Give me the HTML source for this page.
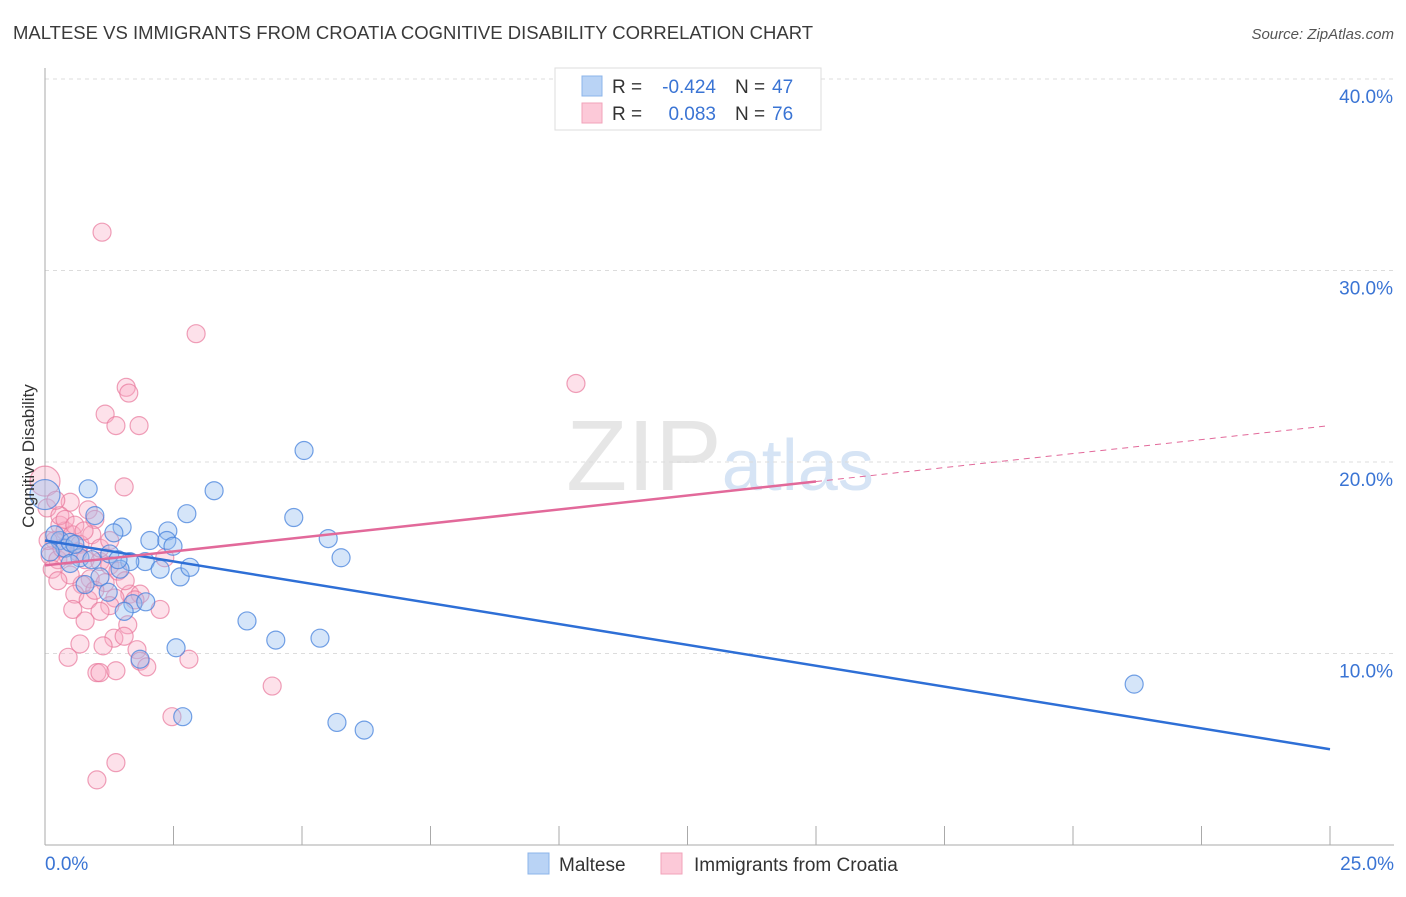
<!DOCTYPE html>
<html><head><meta charset="utf-8"><style>
body{margin:0;background:#fff;font-family:"Liberation Sans",sans-serif}
svg text{font-family:"Liberation Sans",sans-serif}
</style></head><body>
<svg id="chart" width="1406" height="892" xmlns="http://www.w3.org/2000/svg">
<text x="13" y="39" font-size="18.5" fill="#3a3a3a">MALTESE VS IMMIGRANTS FROM CROATIA COGNITIVE DISABILITY CORRELATION CHART</text>
<text x="1394" y="39" font-size="15" fill="#555" font-style="italic" text-anchor="end">Source: ZipAtlas.com</text>
<text x="720" y="490" font-size="100" fill="#e6e6e6" text-anchor="middle" font-family="Liberation Serif">ZIP<tspan fill="#d6e4f5" font-family="Liberation Sans" font-size="72">atlas</tspan></text>
<g id="grid"></g>
<g id="axes"></g>
<g id="pts"></g>
<g id="trends"></g>
<text transform="translate(34,456) rotate(-90)" font-size="17" fill="#333" text-anchor="middle">Cognitive Disability</text>
<g>
<rect x="555" y="68" width="266" height="62" fill="#fff" stroke="#ddd"/>
<rect x="582" y="76" width="20" height="20" fill="#b9d3f5" stroke="#8cb4ea"/>
<rect x="582" y="103" width="20" height="20" fill="#fcc9d8" stroke="#f2a3ba"/>
<text x="612" y="93" font-size="19" fill="#333">R =</text>
<text x="716" y="93" font-size="19" fill="#3a74d4" text-anchor="end">-0.424</text>
<text x="735" y="93" font-size="19" fill="#333">N =</text>
<text x="772" y="93" font-size="19" fill="#3a74d4">47</text>
<text x="612" y="120" font-size="19" fill="#333">R =</text>
<text x="716" y="120" font-size="19" fill="#3a74d4" text-anchor="end">0.083</text>
<text x="735" y="120" font-size="19" fill="#333">N =</text>
<text x="772" y="120" font-size="19" fill="#3a74d4">76</text>
</g>
<g>
<rect x="528" y="853" width="21" height="21" fill="#b9d3f5" stroke="#8cb4ea"/>
<text x="559" y="871" font-size="19" fill="#333">Maltese</text>
<rect x="661" y="853" width="21" height="21" fill="#fcc9d8" stroke="#f2a3ba"/>
<text x="694" y="871" font-size="19" fill="#333">Immigrants from Croatia</text>
</g>
</svg>
<script>
const yTicks=[10,20,30,40];
const blueX=[0,0.84,0.97,1.5,1.34,2.04,2.39,2.37,2.49,2.76,3.29,5.04,4.84,5.51,5.76,1.26,0.68,0.29,0.39,0.49,0.58,1.95,2.24,2.63,2.82,1.65,1.46,1.07,0.78,1.23,1.71,1.96,1.54,3.93,4.49,5.35,2.55,1.85,2.68,5.68,6.21,21.19,0.19,0.91,0.1,0.49,1.42];
const blueY=[18.3,18.6,17.2,16.6,16.3,15.9,16.4,15.9,15.6,17.3,18.5,20.6,17.1,16.0,15.0,15.2,15.0,15.9,15.5,15.8,15.7,14.8,14.4,14.0,14.5,14.8,14.4,14.0,13.6,13.2,12.6,12.7,12.2,11.7,10.7,10.8,10.3,9.7,6.7,6.4,6.0,8.4,16.2,14.9,15.3,14.7,14.9];
const pinkX=[1.11,2.94,10.33,1.58,1.63,1.17,1.38,1.83,1.54,0,0.04,0.49,0.84,0.97,0.29,0.39,0.19,0.53,0.68,0.1,0.25,0.45,0.64,0.78,1.07,1.26,1.42,0.88,0.72,1.17,1.65,0.58,1.36,1.85,0.84,1.26,0.54,1.07,0.78,1.61,2.24,0.68,1.34,1.54,1.13,1.79,0.45,1.85,1.98,1.01,1.07,1.38,2.8,4.42,2.47,1.01,1.38,2.33,0.29,0.91,0.39,0.14,0.33,0.58,1.07,1.26,0.06,0.21,0.76,0.49,0.97,1.75,1.56,0.25];
const pinkY=[32.0,26.7,24.1,23.9,23.6,22.5,21.9,21.9,18.7,19.0,17.6,17.9,17.5,17.0,16.7,16.4,15.9,16.2,15.7,15.1,14.9,15.1,15.3,14.9,14.8,14.6,14.3,13.9,13.6,13.7,13.1,13.1,12.9,13.1,12.8,12.5,12.3,12.2,11.7,11.5,12.3,10.5,10.8,10.9,10.4,10.2,9.8,9.6,9.3,9.0,9.0,9.1,9.7,8.3,6.7,3.4,4.3,15.0,17.2,16.2,17.0,14.4,15.5,16.7,15.5,15.9,15.9,18.0,16.4,14.1,13.3,12.8,13.8,13.8];
const blueTrend=[15.9,5.0];
const pinkTrend=[14.6,21.9];
const X=v=>45+v*51.4, Y=v=>845-v*19.15;
const NS='http://www.w3.org/2000/svg';
function mk(t,a,p){const e=document.createElementNS(NS,t);for(const k in a)e.setAttribute(k,a[k]);document.getElementById(p).appendChild(e);return e;}
yTicks.forEach(t=>{
 const l=mk('line',{x1:45,x2:1394,y1:Y(t),y2:Y(t),stroke:'#dcdcdc','stroke-dasharray':'4,4'},'grid');
 
 
 const tx=mk('text',{x:1393,y:Y(t)+24,'font-size':19,fill:'#3a74d4','text-anchor':'end'},'grid');
 tx.textContent=t.toFixed(1)+'%';
 
 
});
mk('line',{x1:45,x2:45,y1:68,y2:845,stroke:'#aaa'},'axes');
mk('line',{x1:45,x2:1394,y1:845,y2:845,stroke:'#aaa'},'axes');
for(let i=0;i<=10;i++){const t=mk('line',{x1:X(i*2.5),x2:X(i*2.5),y1:826,y2:845,stroke:'#aaa'},'axes');}
const x0=mk('text',{x:45,y:870,'font-size':19,fill:'#3a74d4'},'axes');x0.textContent='0.0%';


const x1=mk('text',{x:1394,y:870,'font-size':19,fill:'#3a74d4','text-anchor':'end'},'axes');x1.textContent='25.0%';


pinkX.forEach((v,i)=>{const c=mk('circle',{cx:X(v),cy:Y(pinkY[i]),r:v===0?15:9,fill:'rgba(248,170,195,0.35)',stroke:'rgba(232,120,155,0.7)','stroke-width':1.2},'pts');
 
 });
blueX.forEach((v,i)=>{const c=mk('circle',{cx:X(v),cy:Y(blueY[i]),r:v===0?15:9,fill:'rgba(150,190,240,0.4)',stroke:'rgba(70,130,220,0.75)','stroke-width':1.2},'pts');
 
 });
const bt=mk('line',{x1:X(0),y1:Y(blueTrend[0]),x2:X(25),y2:Y(blueTrend[1]),stroke:'#2e6fd6','stroke-width':2.5},'trends');


const pm=pinkTrend[0]+(pinkTrend[1]-pinkTrend[0])*15/25;
const pt=mk('line',{x1:X(0),y1:Y(pinkTrend[0]),x2:X(15),y2:Y(pm),stroke:'#e2699a','stroke-width':2.5},'trends');


const pd=mk('line',{x1:X(15),y1:Y(pm),x2:X(25),y2:Y(pinkTrend[1]),stroke:'#e2699a','stroke-width':1,'stroke-dasharray':'6,5'},'trends');


</script>
</body></html>
